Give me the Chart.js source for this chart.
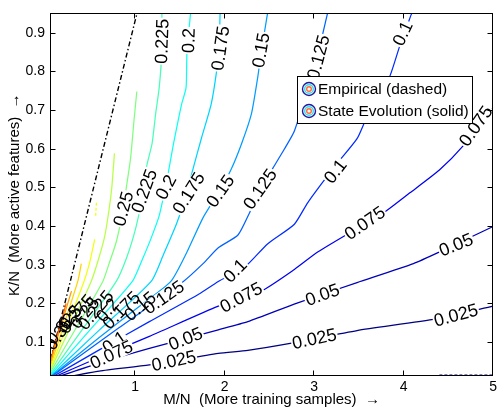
<!DOCTYPE html>
<html>
<head>
<meta charset="utf-8">
<script src="https://cdn.jsdelivr.net/npm/chart.js@4"></script>
<style>
  html, body { margin: 0; padding: 0; background: #fff; }
</style>
</head>
<body>
<canvas id="chart" width="500" height="410"></canvas>
<script>
const FONT = '"Liberation Sans", Arial, Helvetica, "DejaVu Sans", sans-serif';

const xTicks = [1, 2, 3, 4, 5];
const yTicks = [0.1, 0.2, 0.3, 0.4, 0.5, 0.6, 0.7, 0.8, 0.9];

const levels = [0.025, 0.05, 0.075, 0.1, 0.125, 0.15, 0.175, 0.2, 0.225, 0.25, 0.275, 0.3, 0.325, 0.35, 0.375, 0.4];

// state evolution contours (solid), [M/N, K/N]
const c025 = [[0,0],[0.60,0.025],[1.16,0.041],[1.93,0.071],[2.26,0.079],[2.78,0.099],[3.48,0.130],[4.36,0.160],[5.0,0.193]];
const c050 = [[0,0],[0.60,0.046],[1.16,0.084],[1.93,0.132],[2.26,0.153],[2.81,0.201],[3.48,0.254],[4.11,0.303],[4.40,0.333],[5.0,0.399]];
const c075 = [[0,0],[0.60,0.061],[1.16,0.115],[1.93,0.193],[2.41,0.232],[2.78,0.288],[3.04,0.333],[3.48,0.394],[3.78,0.435],[4.07,0.486],[4.40,0.545],[4.66,0.606],[5.0,0.707]];
const c100 = [[0,0],[0.60,0.080],[1.16,0.153],[1.71,0.224],[1.93,0.257],[2.23,0.295],[2.48,0.354],[2.78,0.405],[2.93,0.461],[3.24,0.557],[3.48,0.626],[3.59,0.682],[3.84,0.784],[3.96,0.868],[4.09,0.95]];
const c125 = [[0,0],[0.82,0.137],[1.54,0.257],[1.76,0.303],[1.93,0.344],[2.15,0.377],[2.27,0.430],[2.40,0.496],[2.54,0.550],[2.67,0.600],[2.78,0.646],[2.96,0.779],[3.04,0.842],[3.15,0.95]];
const c150 = [[0,0],[0.60,0.112],[1.05,0.193],[1.40,0.257],[1.58,0.333],[1.76,0.422],[1.93,0.486],[2.07,0.545],[2.19,0.613],[2.30,0.690],[2.37,0.784],[2.41,0.850],[2.48,0.95]];
const c175 = [[0,0],[0.60,0.131],[1.18,0.257],[1.32,0.328],[1.47,0.410],[1.57,0.481],[1.65,0.550],[1.74,0.626],[1.85,0.715],[1.91,0.799],[1.94,0.868],[1.95,0.95]];
const c200 = [[0,0],[0.49,0.130],[0.97,0.257],[1.08,0.313],[1.18,0.369],[1.27,0.427],[1.36,0.524],[1.43,0.613],[1.52,0.715],[1.57,0.758],[1.58,0.850],[1.62,0.95]];
const c225 = [[0,0],[0.44,0.142],[0.79,0.257],[0.91,0.321],[1.01,0.397],[1.08,0.473],[1.13,0.555],[1.19,0.613],[1.23,0.690],[1.27,0.758],[1.30,0.855],[1.30,0.95]];
const c250 = [[0,0],[0.33,0.132],[0.64,0.257],[0.71,0.303],[0.79,0.359],[0.86,0.435],[0.91,0.511],[0.95,0.575],[0.99,0.677],[1.02,0.748]];
const c275 = [[0,0],[0.27,0.135],[0.51,0.257],[0.59,0.313],[0.66,0.372],[0.71,0.443],[0.74,0.499],[0.77,0.588]];
const c300 = [[0,0],[0.22,0.130],[0.43,0.257],[0.49,0.303],[0.55,0.366]];
const c325 = [[0,0],[0.18,0.127],[0.36,0.257],[0.40,0.303]];
const c350 = [[0,0],[0.14,0.117],[0.29,0.232]];
const c375 = [[0,0],[0.12,0.104],[0.23,0.200]];
const c400 = [[0,0],[0.10,0.090],[0.18,0.160]];
const contours = [c025, c050, c075, c100, c125, c150, c175, c200, c225, c250, c275, c300, c325, c350, c375, c400];

// empirical-only pieces (dashed)
const e300 = [[0.56,0.427],[0.57,0.466]];
const e025 = [[4.40,0.0145],[5.0,0.0145]];

// theoretical boundary (dash-dot)
const boundary = [[0.03,0.028],[0.50,0.465],[1.03,0.958]];

// contour labels: text, M/N, K/N, angle (deg), white backing
const contourLabels = [
  ['0.225', 1.300, 0.878, -88, true], ['0.2', 1.598, 0.880, -88, true],
  ['0.175', 1.952, 0.860, -82, true], ['0.15', 2.406, 0.855, -80, true],
  ['0.125', 3.048, 0.837, -75, true], ['0.1', 3.988, 0.898, -65, true],
  ['0.075', 4.806, 0.659, -55, true],
  ['0.25', 0.868, 0.445, -75, true], ['0.225', 1.101, 0.491, -70, true],
  ['0.2', 1.344, 0.501, -62, true], ['0.175', 1.598, 0.486, -58, true],
  ['0.15', 1.952, 0.491, -55, true], ['0.125', 2.395, 0.496, -55, true],
  ['0.1', 3.236, 0.542, -52, true], ['0.1', 2.118, 0.285, -45, true],
  ['0.075', 2.185, 0.216, -28, true], ['0.075', 3.567, 0.408, -35, true],
  ['0.05', 3.092, 0.223, -20, true], ['0.05', 4.585, 0.352, -22, true],
  ['0.025', 3.003, 0.109, -12, true], ['0.025', 4.585, 0.170, -15, true],
  ['0.125', 1.322, 0.216, -35, true], ['0.025', 1.433, 0.052, -12, true],
  ['0.05', 1.565, 0.109, -22, true], ['0.1', 0.769, 0.100, -35, true],
  ['0.075', 0.736, 0.068, -25, true],
  ['0.15', 1.057, 0.193, -40, false], ['0.175', 0.846, 0.183, -45, false],
  ['0.2', 0.691, 0.183, -50, false], ['0.225', 0.559, 0.183, -50, false],
  ['0.25', 0.437, 0.176, -50, false], ['0.275', 0.348, 0.173, -50, false],
  ['0.3', 0.271, 0.165, -50, false], ['0.325', 0.205, 0.145, -50, false],
  ['0.35', 0.149, 0.122, -55, false]
];

function jet(v) {
    const t = (v - 0.025) / (0.475 - 0.025);
    const f = c => Math.round(255 * Math.max(0, Math.min(1, 1.5 - Math.abs(4 * t - c))));
    return `rgb(${f(3)},${f(2)},${f(1)})`;
}

const toXY = pts => pts.map(([x, y]) => ({ x, y }));

const datasets = contours.map((pts, i) => ({
    data: toXY(pts),
    borderColor: jet(levels[i]),
    borderWidth: 1.25,
    showLine: true,
    pointRadius: 0,
    tension: 0.2,
    fill: false,
}));
datasets.push({ data: toXY(e300), borderColor: jet(0.3), borderWidth: 1.25, borderDash: [3, 2], showLine: true, pointRadius: 0 });
datasets.push({ data: toXY(e025), borderColor: jet(0.025), borderWidth: 1.25, borderDash: [3, 2], showLine: true, pointRadius: 0 });
datasets.push({ data: toXY(boundary), borderColor: '#000', borderWidth: 1.4, borderDash: [5, 2.5, 1.5, 2.5], showLine: true, pointRadius: 0 });

const labelPlugin = {
    id: 'contourLabels',
    afterDatasetsDraw(chart) {
        const { ctx, chartArea: a, scales: { x, y } } = chart;
        ctx.save();
        ctx.beginPath();
        ctx.rect(a.left, a.top, a.right - a.left, a.bottom - a.top);
        ctx.clip();
        ctx.font = '18px ' + FONT;
        ctx.textAlign = 'center';
        ctx.textBaseline = 'middle';
        contourLabels.forEach(([txt, lx, ly, ang, bg]) => {
            ctx.save();
            ctx.translate(x.getPixelForValue(lx), y.getPixelForValue(ly));
            ctx.rotate(ang * Math.PI / 180);
            if (bg) {
                const w = ctx.measureText(txt).width;
                ctx.fillStyle = '#fff';
                ctx.fillRect(-w / 2 - 1, -7, w + 2, 14);
            }
            ctx.fillStyle = '#000';
            ctx.fillText(txt, 0, 1);
            ctx.restore();
        });
        ctx.restore();
    }
};

const framePlugin = {
    id: 'frame',
    afterDraw(chart) {
        const { ctx, chartArea: a, scales: { x, y } } = chart;
        const L = Math.round(a.left) + 0.5, R = Math.round(a.right) - 0.5;
        const T = Math.round(a.top) + 0.5, B = Math.round(a.bottom) - 0.5;
        ctx.save();
        ctx.strokeStyle = '#000';
        ctx.lineWidth = 1;
        ctx.strokeRect(L, T, R - L, B - T);
        ctx.beginPath();
        xTicks.forEach(v => {
            const px = Math.round(x.getPixelForValue(v)) - 0.5;
            ctx.moveTo(px, B); ctx.lineTo(px, B - 5);
            ctx.moveTo(px, T); ctx.lineTo(px, T + 5);
        });
        yTicks.forEach(v => {
            const py = Math.round(y.getPixelForValue(v)) + 0.5;
            ctx.moveTo(L, py); ctx.lineTo(L + 5, py);
            ctx.moveTo(R, py); ctx.lineTo(R - 5, py);
        });
        ctx.stroke();

        // axis titles
        ctx.fillStyle = '#000';
        ctx.font = '15px ' + FONT;
        ctx.textAlign = 'center';
        ctx.textBaseline = 'middle';
        ctx.fillText('M/N  (More training samples)  \u2192', (a.left + a.right) / 2, 400);
        ctx.save();
        ctx.translate(15, (a.top + a.bottom) / 2);
        ctx.rotate(-Math.PI / 2);
        ctx.fillText('K/N  (More active features)  \u2192', 0, 0);
        ctx.restore();

        // legend
        const lx = 297.5, ly = 76.5, lw = 175, lh = 47;
        ctx.fillStyle = '#fff';
        ctx.fillRect(lx, ly, lw, lh);
        ctx.strokeRect(lx, ly, lw, lh);
        const rows = ['Empirical (dashed)', 'State Evolution (solid)'];
        rows.forEach((txt, i) => {
            const cy = 89 + i * 22, cx = 309;
            [[6.5, '#1c1c9c'], [4.3, '#3cd8ec'], [2.3, '#ff6a3c']].forEach(([r, col]) => {
                ctx.beginPath();
                ctx.strokeStyle = col;
                ctx.lineWidth = 1.4;
                ctx.arc(cx, cy, r, 0, Math.PI * 2);
                ctx.stroke();
            });
            ctx.fillStyle = '#000';
            ctx.font = '15.5px ' + FONT;
            ctx.textAlign = 'left';
            ctx.fillText(txt, 318, cy + 1);
        });
        ctx.restore();
    }
};

new Chart(document.getElementById('chart'), {
    type: 'scatter',
    data: { datasets },
    options: {
        responsive: false,
        animation: false,
        devicePixelRatio: 1,
        layout: { padding: { top: 7, right: 3, left: 0, bottom: 0 } },
        plugins: { legend: { display: false }, tooltip: { enabled: false } },
        scales: {
            x: {
                type: 'linear', min: 0.05, max: 5,
                grid: { display: false, drawTicks: false },
                border: { display: false },
                ticks: { color: '#000', font: { family: FONT, size: 14 }, padding: 3, autoSkip: false, maxRotation: 0,
                         callback: v => String(v) },
                afterBuildTicks: s => { s.ticks = xTicks.map(v => ({ value: v })); },
                afterFit: s => { s.height = 34; }
            },
            y: {
                type: 'linear', min: 0.0125, max: 0.95,
                grid: { display: false, drawTicks: false },
                border: { display: false },
                ticks: { color: '#000', font: { family: FONT, size: 14 }, padding: 5, autoSkip: false,
                         callback: v => v.toFixed(1) },
                afterBuildTicks: s => { s.ticks = yTicks.map(v => ({ value: v })); },
                afterFit: s => { s.width = 50; }
            }
        }
    },
    plugins: [labelPlugin, framePlugin]
});
</script>
</body>
</html>
